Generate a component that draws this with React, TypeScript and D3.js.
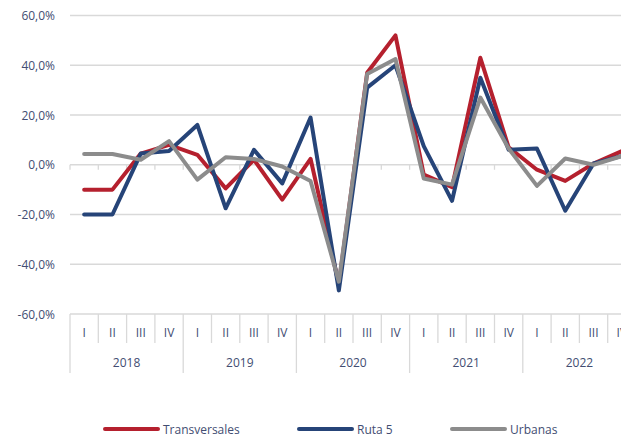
import React, { useEffect, useRef } from 'react';
import * as d3 from 'd3';

// quarters per year, years shown under the axis
const quarters = ['I', 'II', 'III', 'IV'];
const years = ['2018', '2019', '2020', '2021', '2022'];

// year-over-year change (%) per quarter, 2018-I .. 2022-IV
const transversales = [-10, -10, 4.5, 8, 4, -9.5, 2, -14, 2.4, -48, 37, 52, -4, -9, 43, 7, -2, -6.5, 0.5, 5.5];
const ruta5 = [-20, -20, 4.5, 5.5, 16, -17.5, 6, -7.5, 19, -50.5, 31, 40, 7.5, -14.5, 35, 6, 6.5, -18.5, 0.5, 3.5];
const urbanas = [4.3, 4.3, 2, 9.5, -6, 3, 2.3, -0.7, -6.5, -47, 36.5, 42.5, -5.5, -8, 27, 6.5, -8.5, 2.5, 0, 3.5];

const yTicks = [-60, -40, -20, 0, 20, 40, 60];

const seriesList = [
  { name: 'Transversales', values: transversales, color: '#B5202E' },
  { name: 'Ruta 5', values: ruta5, color: '#264478' },
  { name: 'Urbanas', values: urbanas, color: '#8C8C8C' },
];

const App = () => {
  const svgRef = useRef<SVGSVGElement>(null);
  const width = 621;
  const height = 440;

  useEffect(() => {
    const svg = d3.select(svgRef.current);
    svg.selectAll('*').remove();

    const font = '"Open Sans", "Noto Sans", sans-serif';
    const textColor = '#424D72';
    const gridColor = '#D9D9D9';

    const left = 70;
    const quarterW = 28.3;
    const top = 15.5;
    const bottom = 314;

    const categories = years.flatMap(yr => quarters.map(q => `${yr}-${q}`));

    const x = d3.scaleBand<string>()
      .domain(categories)
      .range([left, left + categories.length * quarterW]);

    const y = d3.scaleLinear()
      .domain([-60, 60])
      .range([bottom, top]);

    // gridlines
    svg.append('g')
      .selectAll('line')
      .data(yTicks)
      .enter()
      .append('line')
      .attr('x1', left)
      .attr('x2', width)
      .attr('y1', d => y(d))
      .attr('y2', d => y(d))
      .attr('stroke', gridColor)
      .attr('stroke-width', 1.3);

    // y labels (hyphen minus, comma decimal)
    svg.append('g')
      .selectAll('text')
      .data(yTicks)
      .enter()
      .append('text')
      .attr('x', 55)
      .attr('y', d => y(d) + 4.5)
      .attr('text-anchor', 'end')
      .attr('font-family', font)
      .attr('font-size', 12)
      .attr('fill', textColor)
      .text(d => d.toFixed(1).replace('.', ',') + '%');

    // small ticks on the zero line
    svg.append('g')
      .selectAll('line')
      .data(categories)
      .enter()
      .append('line')
      .attr('x1', d => x(d)!)
      .attr('x2', d => x(d)!)
      .attr('y1', y(0))
      .attr('y2', y(0) + 5)
      .attr('stroke', gridColor)
      .attr('stroke-width', 1.3);

    // category table below the plot
    const table = svg.append('g');
    categories.forEach((c, i) => {
      const isYear = i % 4 === 0;
      table.append('line')
        .attr('x1', x(c)!)
        .attr('x2', x(c)!)
        .attr('y1', bottom)
        .attr('y2', isYear ? 373 : 343)
        .attr('stroke', gridColor)
        .attr('stroke-width', 1.3);
      table.append('text')
        .attr('x', x(c)! + x.bandwidth() / 2)
        .attr('y', 337)
        .attr('text-anchor', 'middle')
        .attr('font-family', font)
        .attr('font-size', 12)
        .attr('fill', textColor)
        .text(c.split('-')[1]);
    });
    years.forEach(yr => {
      const x0 = x(`${yr}-I`)!;
      table.append('text')
        .attr('x', x0 + quarterW * 2)
        .attr('y', 367)
        .attr('text-anchor', 'middle')
        .attr('font-family', font)
        .attr('font-size', 12)
        .attr('fill', textColor)
        .text(yr);
    });

    // lines
    seriesList.forEach(s => {
      const line = d3.line<number>()
        .x((_, i) => x(categories[i])! + x.bandwidth() / 2)
        .y(d => y(d));
      svg.append('path')
        .datum(s.values)
        .attr('fill', 'none')
        .attr('stroke', s.color)
        .attr('stroke-width', 4)
        .attr('stroke-linejoin', 'round')
        .attr('stroke-linecap', 'round')
        .attr('d', line);
    });

    // legend
    const legendX = [105, 299, 452];
    seriesList.forEach((s, i) => {
      const g = svg.append('g').attr('transform', `translate(${legendX[i]}, 429)`);
      g.append('line')
        .attr('x1', 0)
        .attr('x2', 53)
        .attr('stroke', s.color)
        .attr('stroke-width', 4)
        .attr('stroke-linecap', 'round');
      g.append('text')
        .attr('x', 58)
        .attr('y', 4.5)
        .attr('font-family', font)
        .attr('font-size', 12)
        .attr('fill', textColor)
        .text(s.name);
    });
  }, []);

  return (
    <div style={{ position: 'absolute', left: 0, top: 0 }}>
      <svg ref={svgRef} width={width} height={height} style={{ display: 'block', background: '#fff' }}></svg>
    </div>
  );
};

export default App;
